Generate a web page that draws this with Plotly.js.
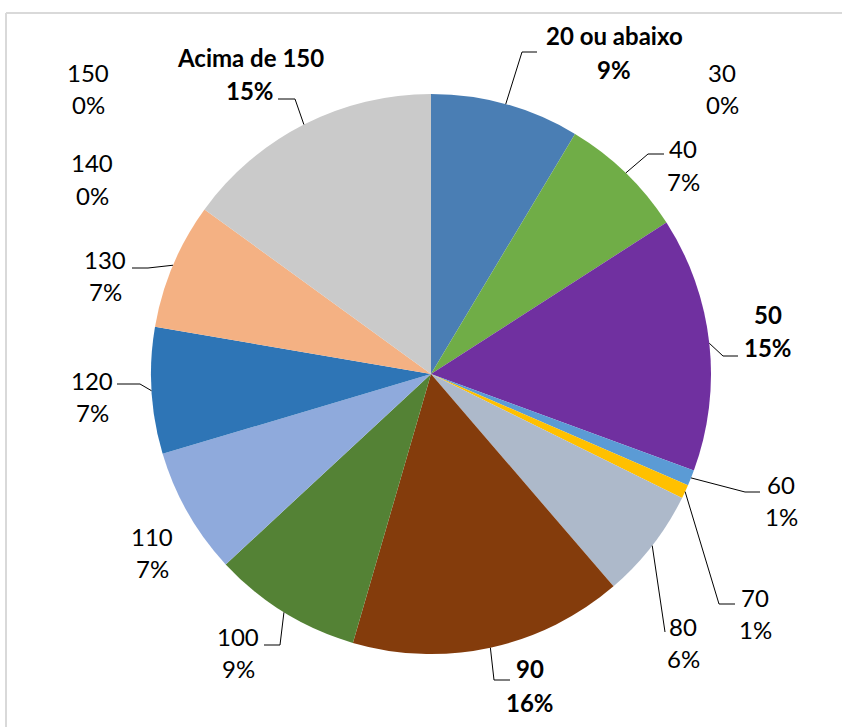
<!DOCTYPE html>
<html>
<head>
<meta charset="utf-8">
<script src="https://cdn.plot.ly/plotly-3.0.1.min.js"></script>
<style>html,body{margin:0;padding:0;background:#fff;}#chart{width:842px;height:727px;}</style>
</head>
<body>
<div id="chart"></div>
<script>
// ---- data ----
const categories = ["20 ou abaixo","30","40","50","60","70","80","90","100","110","120","130","140","150","Acima de 150"];
const values = [8.6, 0, 7.3, 14.7, 0.9, 0.8, 6.4, 15.8, 8.6, 7.3, 7.3, 7.3, 0, 0, 15.0];
const boldCats = ["20 ou abaixo","50","90","Acima de 150"];

// ---- styles ----
const colors = ["#4a7eb4","#a5a5a5","#70ad47","#7030a0","#5b9bd5","#ffc000","#adb9ca","#843c0c","#548235","#8faadc","#2e75b6","#f4b183","#ffd966","#a9d18e","#cacaca"];
const W = 842, H = 727;
const cx = 431, cy = 374, R = 280;           // pie placement in px
// label text centres [x, yLine1, yLine2] and leader [elbow, end] in px
const labelPos = [
  [614,35,69],[722,73,105],[683,148,181],[768,314,348],[781,484,516],
  [755,597,629],[683,626,658],[530,668,702],[238,636,668],[152,536,568],
  [92,380,412],[105,259,291],[92,163,195],[88,73,105],[250,57,90]
];
const leaders = [
  [[522,52],[537,52]], null, [[648,154],[664,154]], [[723,356],[738,356]], [[745,492],[760,492]],
  [[719,604],[735,604]], [[665,632],[665,632]], [[494,680],[510,680]], [[280,645],[264,645]], null,
  [[140,384],[117,384]], [[148,268],[132,268]], null, null, [[295,99],[278,99]]
];

const px = x => x / W, py = y => 1 - y / H;
const total = values.reduce((a,b)=>a+b,0);

const annotations = [];
const shapes = [];
let cum = 0;
categories.forEach((c,i) => {
  const v = values[i];
  const mid = (cum + v/2) / total * 2 * Math.PI;
  cum += v;
  const pct = Math.round(v/total*100) + '%';
  const b = boldCats.includes(c);
  const f = {family:'Lato, "Open Sans", sans-serif', size:24, color:'#000'};
  const p = labelPos[i];
  annotations.push({xref:'paper',yref:'paper',x:px(p[0]),y:py(p[1]),xanchor:'center',yanchor:'middle',showarrow:false,text:b?'<b>'+c+'</b>':c,font:f});
  annotations.push({xref:'paper',yref:'paper',x:px(p[0]),y:py(p[2]),xanchor:'center',yanchor:'middle',showarrow:false,text:b?'<b>'+pct+'</b>':pct,font:f});
  const L = leaders[i];
  if (L) {
    const sx = cx + R*Math.sin(mid), sy = cy - R*Math.cos(mid);
    shapes.push({type:'path',xref:'paper',yref:'paper',
      path:`M ${px(sx)} ${py(sy)} L ${px(L[0][0])} ${py(L[0][1])} L ${px(L[1][0])} ${py(L[1][1])}`,
      line:{color:'#000',width:1}});
  }
});
// chart border (top and left visible)
shapes.push({type:'line',xref:'paper',yref:'paper',x0:px(6),y0:py(13),x1:1.01,y1:py(13),line:{color:'#d9d9d9',width:2}});
shapes.push({type:'line',xref:'paper',yref:'paper',x0:px(6),y0:py(13),x1:px(6),y1:-0.01,line:{color:'#d9d9d9',width:2}});

const trace = {
  type:'pie', labels:categories, values:values, sort:false, direction:'clockwise', rotation:0,
  marker:{colors:colors, line:{width:0}}, textinfo:'none', hoverinfo:'label+percent', showlegend:false,
  domain:{x:[(cx-R)/W,(cx+R)/W], y:[1-(cy+R)/H, 1-(cy-R)/H]}
};

Plotly.newPlot('chart',[trace],{
  width:W,height:H,margin:{l:0,r:0,t:0,b:0},paper_bgcolor:'#fff',plot_bgcolor:'#fff',
  showlegend:false,annotations:annotations,shapes:shapes
},{staticPlot:true});
</script>
</body>
</html>
